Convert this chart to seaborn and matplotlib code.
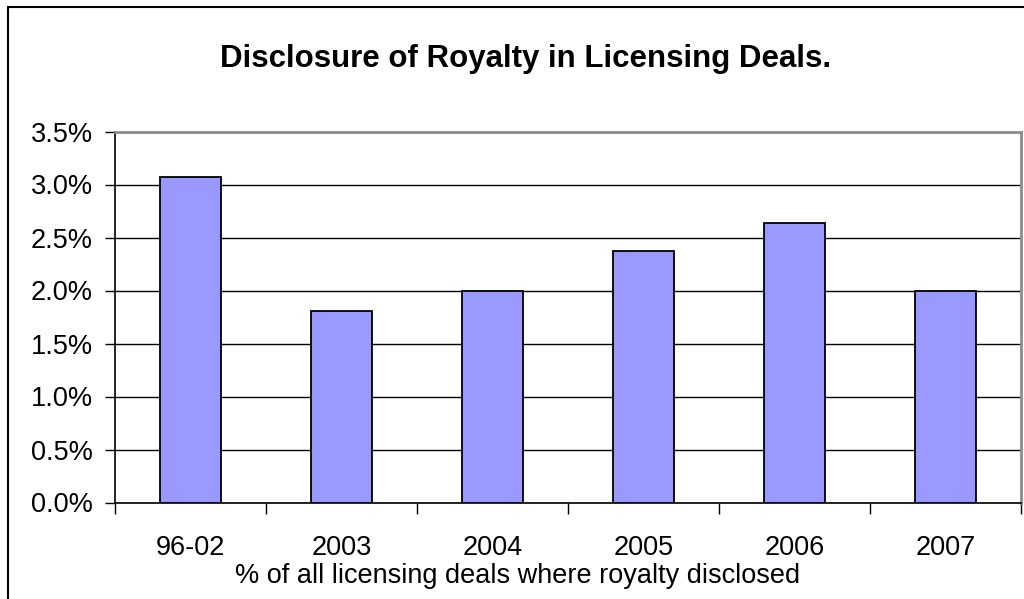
import matplotlib
matplotlib.use("Agg")
import matplotlib.pyplot as plt
import seaborn as sns
import pandas as pd
from matplotlib.patches import Rectangle
from matplotlib.ticker import FuncFormatter, MultipleLocator

categories = ["96-02", "2003", "2004", "2005", "2006", "2007"]
values = [3.07, 1.81, 2.00, 2.37, 2.64, 2.00]
title = "Disclosure of Royalty in Licensing Deals."
xlabel = "% of all licensing deals where royalty disclosed"

sns.set_theme(style="white")
plt.rcParams["font.family"] = ["Liberation Sans", "DejaVu Sans"]

df = pd.DataFrame({"period": categories, "pct": values})

fig = plt.figure(figsize=(10.24, 5.99), dpi=100)
ax = fig.add_axes([115/1024, 1 - 502.5/599, (1021-115)/1024, (502.5-131.5)/599])

sns.barplot(data=df, x="period", y="pct", color="#9999FF", saturation=1,
            edgecolor="black", linewidth=1.3, width=0.405, ax=ax, zorder=3)

ax.set_ylim(0, 3.5)
ax.set_xlim(-0.5, len(categories) - 0.5)
ax.yaxis.set_major_locator(MultipleLocator(0.5))
ax.yaxis.set_major_formatter(FuncFormatter(lambda v, p: f"{v:.1f}%"))
ax.grid(axis="y", color="black", linewidth=1.0, zorder=0)
ax.set_axisbelow(True)

ax.set_xlabel("")
ax.set_ylabel("")
ax.set_xticks(range(len(categories)))
ax.set_xticklabels(categories)
ax.tick_params(axis="x", length=0, pad=23.5, labelsize=19.5, colors="black")
ax.tick_params(axis="y", left=True, length=7, width=1, direction="out", pad=9,
               labelsize=19.5, colors="black")
# category boundary ticks
ax.set_xticks([i - 0.5 for i in range(len(categories) + 1)], minor=True)
ax.tick_params(axis="x", which="minor", bottom=True, length=8, width=1, color="black")

for s in ["left", "bottom"]:
    ax.spines[s].set_color("black")
    ax.spines[s].set_linewidth(1.2)
for s in ["top", "right"]:
    ax.spines[s].set_color("#8c8c8c")
    ax.spines[s].set_linewidth(2.0)

fig.text(526/1024, 1 - 58.5/599, title, ha="center", va="center",
         fontsize=22.5, fontweight="bold", color="black")
fig.text(518/1024, 1 - 576/599, xlabel, ha="center", va="center",
         fontsize=19.5, color="black")

# outer chart border (extends past the image on right and bottom)
fig.patches.append(Rectangle((7.5/1024, -0.2), 1.5, 1.2 - 6.5/599 + 0.0,
                             transform=fig.transFigure, fill=False,
                             edgecolor="black", linewidth=1.5))

fig.savefig("out.png", dpi=100)
